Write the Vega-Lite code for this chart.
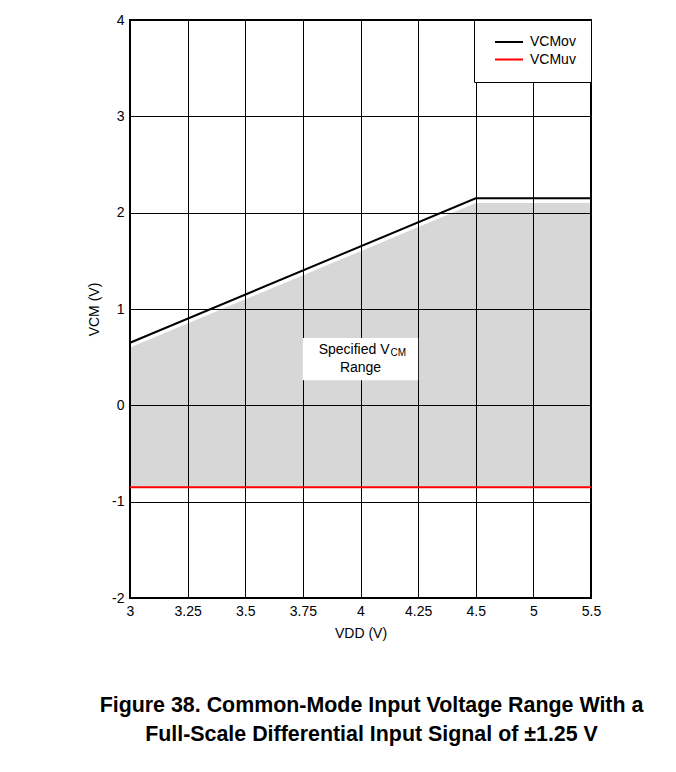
{
  "$schema": "https://vega.github.io/schema/vega-lite/v6.json",
  "width": 461,
  "height": 578,
  "autosize": {"type": "none"},
  "padding": {"left": 130, "top": 20, "right": 85, "bottom": 174},
  "background": "white",
  "title": {
    "text": ["Figure 38. Common-Mode Input Voltage Range With a", "Full-Scale Differential Input Signal of ±1.25 V"],
    "orient": "bottom",
    "anchor": "middle",
    "font": "Liberation Sans",
    "fontSize": 21.4,
    "fontWeight": "bold",
    "lineHeight": 29,
    "offset": 55,
    "dx": 11,
    "color": "#000"
  },
  "config": {
    "font": "Liberation Sans",
    "view": {"stroke": "#000", "strokeWidth": 2},
    "axis": {
      "domain": false,
      "ticks": false,
      "grid": true,
      "gridColor": "#000",
      "gridOpacity": 1,
      "gridWidth": 1,
      "labelFont": "Liberation Sans",
      "labelFontSize": 14,
      "labelColor": "#000",
      "titleFont": "Liberation Sans",
      "titleFontSize": 14,
      "titleFontWeight": "normal",
      "titleColor": "#000"
    },
    "legend": {
      "labelFont": "Liberation Sans",
      "labelFontSize": 14,
      "labelColor": "#000"
    }
  },
  "datasets": {
    "shaded": [
      {"vdd": 3, "top": 0.6, "low": -0.85},
      {"vdd": 4.5, "top": 2.1, "low": -0.85},
      {"vdd": 5.5, "top": 2.1, "low": -0.85}
    ],
    "curves": [
      {"series": "VCMov", "vdd": 3, "vcm": 0.65},
      {"series": "VCMov", "vdd": 4.5, "vcm": 2.15},
      {"series": "VCMov", "vdd": 5.5, "vcm": 2.15},
      {"series": "VCMuv", "vdd": 3, "vcm": -0.85},
      {"series": "VCMuv", "vdd": 5.5, "vcm": -0.85}
    ]
  },
  "layer": [
    {
      "data": {"name": "shaded"},
      "mark": {"type": "area", "color": "#000", "opacity": 0.157},
      "encoding": {
        "x": {
          "field": "vdd", "type": "quantitative",
          "scale": {"domain": [3, 4.5, 5.5], "range": [0, 345.75, 461], "nice": false, "zero": false},
          "axis": {"title": "VDD (V)", "values": [3, 3.25, 3.5, 3.75, 4, 4.25, 4.5, 5, 5.5], "labelExpr": "'' + datum.value", "labelPadding": 6, "titlePadding": 8, "labelFlush": false, "labelOverlap": false}
        },
        "y": {
          "field": "top", "type": "quantitative",
          "scale": {"domain": [-2, 4], "nice": false, "zero": false},
          "axis": {"title": "VCM (V)", "values": [-2, -1, 0, 1, 2, 3, 4], "labelExpr": "'' + datum.value", "labelPadding": 6, "titlePadding": 10, "labelFlush": false, "labelOverlap": false}
        },
        "y2": {"field": "low"}
      }
    },
    {
      "data": {"name": "curves"},
      "mark": {"type": "line", "strokeWidth": 2},
      "encoding": {
        "x": {"field": "vdd", "type": "quantitative"},
        "y": {"field": "vcm", "type": "quantitative"},
        "color": {
          "field": "series", "type": "nominal",
          "scale": {"domain": ["VCMov", "VCMuv"], "range": ["#000000", "#ff0000"]},
          "legend": {
            "title": null,
            "orient": "top-right",
            "offset": 0,
            "padding": 15,
            "fillColor": "white",
            "strokeColor": "#000",
            "symbolType": "stroke",
            "symbolSize": 784,
            "symbolStrokeWidth": 2,
            "symbolOffset": 5,
            "labelOffset": 6,
            "clipHeight": 14,
            "rowPadding": 3.5
          }
        }
      }
    },
    {
      "data": {"values": [{}]},
      "mark": {"type": "rect", "fill": "white"},
      "encoding": {
        "x": {"datum": 3.75},
        "x2": {"datum": 4.25},
        "y": {"datum": 0.26},
        "y2": {"datum": 0.7}
      }
    },
    {
      "data": {"values": [{}]},
      "mark": {"type": "text", "text": "Specified V", "align": "right", "baseline": "middle", "dx": 29, "fontSize": 14, "color": "#000"},
      "encoding": {"x": {"datum": 4}, "y": {"datum": 0.575}}
    },
    {
      "data": {"values": [{}]},
      "mark": {"type": "text", "text": "CM", "align": "left", "baseline": "middle", "dx": 30, "dy": 3, "fontSize": 10, "color": "#000"},
      "encoding": {"x": {"datum": 4}, "y": {"datum": 0.575}}
    },
    {
      "data": {"values": [{}]},
      "mark": {"type": "text", "text": "Range", "align": "center", "baseline": "middle", "fontSize": 14, "color": "#000"},
      "encoding": {"x": {"datum": 4}, "y": {"datum": 0.388}}
    }
  ]
}
